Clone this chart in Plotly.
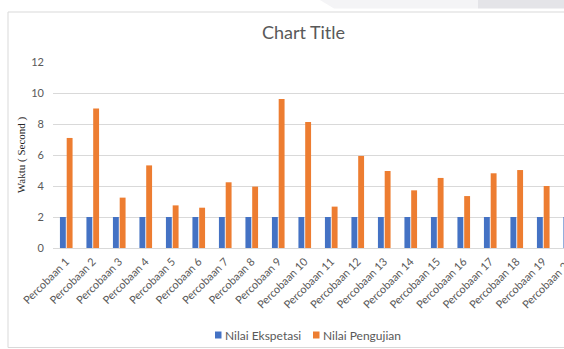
import plotly.graph_objects as go

categories = [f"Percobaan {i}" for i in range(1, 21)]
nilai_ekspetasi = [2] * 20
nilai_pengujian = [7.1, 9.0, 3.25, 5.33, 2.75, 2.6, 4.24, 3.96, 9.61, 8.13,
                   2.67, 5.94, 4.97, 3.72, 4.52, 3.35, 4.82, 5.03, 4.0, 3.6]
y_ticks = [0, 2, 4, 6, 8, 10, 12]
series_names = ["Nilai Ekspetasi", "Nilai Pengujian"]
series_colors = ["#4472C4", "#ED7D31"]

W, H = 600, 349
L, R, T, B = 53, 17, 62, 101
PW = W - L - R
PH = H - T - B

def px(x):
    return (x - L) / PW

def py(y):
    return (H - B - y) / PH

fig = go.Figure()
for name, vals, col in zip(series_names, [nilai_ekspetasi, nilai_pengujian], series_colors):
    fig.add_trace(go.Bar(x=categories, y=vals, name=name, showlegend=False,
                         marker=dict(color=col, line=dict(width=0))))

shapes = [
    # chart border
    dict(type="rect", xref="paper", yref="paper",
         x0=px(8), x1=px(599), y0=py(347.5), y1=py(12),
         line=dict(color="#D9D9D9", width=1), layer="below"),
    # top-right screenshot artifacts
    dict(type="path", xref="paper", yref="paper",
         path=f"M {px(320)} {py(0)} L {px(478)} {py(0)} L {px(478)} {py(8.5)} L {px(334)} {py(8.5)} Z",
         fillcolor="#F4F4F6", line=dict(width=0), layer="below"),
    dict(type="rect", xref="paper", yref="paper",
         x0=px(478), x1=px(600), y0=py(8.5), y1=py(0),
         fillcolor="#E4E4E8", line=dict(width=0), layer="below"),
]

# legend drawn manually: small squares with labels
annotations = []
legend_x = [215, 313]
legend_y = 335
for lx, name, col in zip(legend_x, series_names, series_colors):
    shapes.append(dict(type="rect", xref="paper", yref="paper",
                       x0=px(lx), x1=px(lx + 6.5), y0=py(legend_y + 3.5), y1=py(legend_y - 3.5),
                       fillcolor=col, line=dict(width=0)))
    annotations.append(dict(text=name, xref="paper", yref="paper",
                            x=px(lx + 7.5), y=py(legend_y), xanchor="left", yanchor="middle",
                            showarrow=False,
                            font=dict(family="Lato", size=12, color="#595959")))

fig.update_layout(
    width=W, height=H,
    margin=dict(l=L, r=R, t=T, b=B, autoexpand=False),
    paper_bgcolor="white", plot_bgcolor="white",
    barmode="group", bargap=0.49, bargroupgap=0.13,
    title=dict(text="Chart Title", x=303.5 / W, xref="container", xanchor="center",
               y=1 - 33 / H, yref="container", yanchor="middle",
               font=dict(family="Lato", size=18, color="#595959")),
    font=dict(family="Lato", color="#595959", size=10),
    showlegend=False,
    shapes=shapes,
    annotations=annotations,
    xaxis=dict(tickangle=-45, showgrid=False, showline=True, linecolor="#D9D9D9",
               ticks="", tickfont=dict(family="Lato", size=11, color="#595959"),
               ticklabelstandoff=2,
               range=[-0.5, 19.5], fixedrange=True),
    yaxis=dict(range=[0, 12], tickvals=y_ticks, showgrid=True, gridcolor="#D9D9D9",
               zeroline=False, showline=False, ticks="",
               tickfont=dict(family="Lato", size=11, color="#595959"),
               ticklabelstandoff=8,
               title=dict(text="Waktu ( Second )", standoff=3,
                          font=dict(family="Liberation Serif", size=11, color="#262626"))),
)

fig.write_html("out.html", post_script=
               "document.documentElement.style.overflow='hidden';document.body.style.overflow='hidden';document.body.style.margin='0';")
